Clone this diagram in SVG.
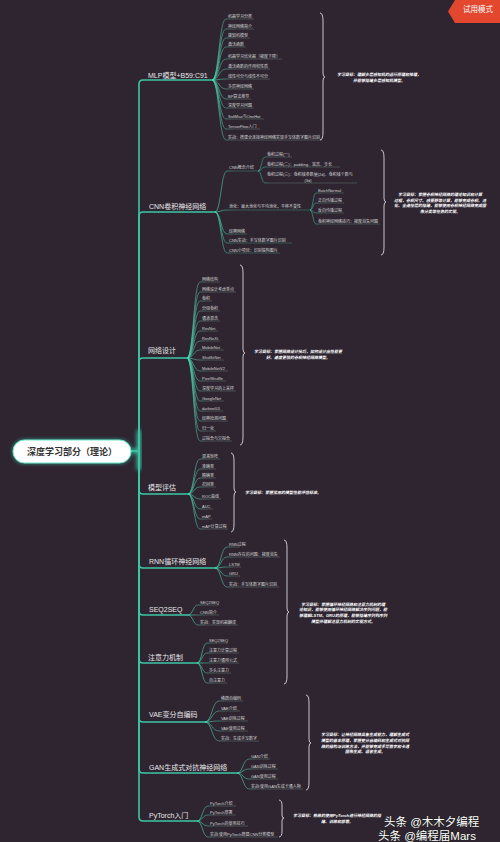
<svg xmlns="http://www.w3.org/2000/svg" width="500" height="842" viewBox="0 0 500 842">
<style>
text{font-family:"Liberation Sans","Noto Sans CJK SC",sans-serif}
.cat{font-size:7px;fill:#e8e8e8}
.leaf{font-size:4px;fill:#d4d4d4}
.note{font-size:4px;fill:#ffffff;font-weight:bold;font-style:italic;text-anchor:middle}
.trunk{fill:none;stroke:#3cc6a5;stroke-width:1.6}
.lc{fill:none;stroke-width:0.7}
.brace{fill:none;stroke:#d8d8d8;stroke-width:0.9}
.wm{font-size:11.5px;fill:#ffffff;stroke:#222;stroke-width:1.2;paint-order:stroke}
</style>
<defs>
<filter id="glow" x="-30%" y="-80%" width="160%" height="260%"><feGaussianBlur stdDeviation="2.2"/></filter>
<linearGradient id="gMLP" gradientUnits="userSpaceOnUse" x1="212" y1="0" x2="234" y2="0"><stop offset="0" stop-color="#46dcb6"/><stop offset="1" stop-color="#55625f"/></linearGradient>
<linearGradient id="gCNN" gradientUnits="userSpaceOnUse" x1="215" y1="0" x2="235" y2="0"><stop offset="0" stop-color="#46dcb6"/><stop offset="1" stop-color="#3c6d63"/></linearGradient>
<linearGradient id="gCNNa" gradientUnits="userSpaceOnUse" x1="258" y1="0" x2="272" y2="0"><stop offset="0" stop-color="#3fae95"/><stop offset="1" stop-color="#4f5f5c"/></linearGradient>
<linearGradient id="gCNNb" gradientUnits="userSpaceOnUse" x1="310" y1="0" x2="324" y2="0"><stop offset="0" stop-color="#3fae95"/><stop offset="1" stop-color="#4f5f5c"/></linearGradient>
<linearGradient id="gNET" gradientUnits="userSpaceOnUse" x1="187" y1="0" x2="208" y2="0"><stop offset="0" stop-color="#46dcb6"/><stop offset="1" stop-color="#55625f"/></linearGradient>
<linearGradient id="gEVAL" gradientUnits="userSpaceOnUse" x1="188" y1="0" x2="208" y2="0"><stop offset="0" stop-color="#46dcb6"/><stop offset="1" stop-color="#55625f"/></linearGradient>
<linearGradient id="gRNN" gradientUnits="userSpaceOnUse" x1="215" y1="0" x2="235" y2="0"><stop offset="0" stop-color="#46dcb6"/><stop offset="1" stop-color="#55625f"/></linearGradient>
<linearGradient id="gSEQ" gradientUnits="userSpaceOnUse" x1="188" y1="0" x2="206" y2="0"><stop offset="0" stop-color="#46dcb6"/><stop offset="1" stop-color="#55625f"/></linearGradient>
<linearGradient id="gATT" gradientUnits="userSpaceOnUse" x1="197" y1="0" x2="215" y2="0"><stop offset="0" stop-color="#46dcb6"/><stop offset="1" stop-color="#55625f"/></linearGradient>
<linearGradient id="gVAE" gradientUnits="userSpaceOnUse" x1="205" y1="0" x2="227" y2="0"><stop offset="0" stop-color="#46dcb6"/><stop offset="1" stop-color="#55625f"/></linearGradient>
<linearGradient id="gGAN" gradientUnits="userSpaceOnUse" x1="237" y1="0" x2="257" y2="0"><stop offset="0" stop-color="#46dcb6"/><stop offset="1" stop-color="#55625f"/></linearGradient>
<linearGradient id="gPT" gradientUnits="userSpaceOnUse" x1="197" y1="0" x2="216" y2="0"><stop offset="0" stop-color="#46dcb6"/><stop offset="1" stop-color="#55625f"/></linearGradient>
</defs>
<rect x="0" y="0" width="500" height="842" fill="#2e2531"/>

<g id="connectors">
<path d="M131 451 H139 M139 430 V470" stroke="#3cf0c4" stroke-width="4" fill="none" filter="url(#glow)" opacity="0.8"/>
<path class="trunk" d="M131 451 H139"/>
<path class="trunk" d="M139 451 V84 Q139 80 143 80 H212"/>
<path class="trunk" d="M139 451 V216 Q139 212 143 212 H215"/>
<path class="trunk" d="M139 451 V362 Q139 358 143 358 H187"/>
<path class="trunk" d="M139 451 V490 Q139 494 143 494 H188"/>
<path class="trunk" d="M139 451 V564 Q139 568 143 568 H215"/>
<path class="trunk" d="M139 451 V611 Q139 615 143 615 H188"/>
<path class="trunk" d="M139 451 V659 Q139 663 143 663 H197"/>
<path class="trunk" d="M139 451 V718 Q139 722 143 722 H205"/>
<path class="trunk" d="M139 451 V769 Q139 773 143 773 H237"/>
<path class="trunk" d="M139 451 V817 Q139 821 143 821 H197"/>

<g class="lc" stroke="url(#gMLP)">
<path d="M212 80 C219 80 219 19 226 19 H254"/>
<path d="M212 80 C219 80 219 29 226 29 H254"/>
<path d="M212 80 C219 80 219 38 226 38 H250"/>
<path d="M212 80 C219 80 219 47 226 47 H246"/>
<path d="M212 80 C219 80 219 59 226 59 H282"/>
<path d="M212 80 C219 80 219 69 226 69 H270"/>
<path d="M212 80 C219 80 219 79 226 79 H270"/>
<path d="M212 80 C219 80 219 89 226 89 H254"/>
<path d="M212 80 C219 80 219 99 226 99 H251"/>
<path d="M212 80 C219 80 219 108 226 108 H254"/>
<path d="M212 80 C219 80 219 119 226 119 H264"/>
<path d="M212 80 C219 80 219 129 226 129 H260"/>
<path d="M212 80 C219 80 219 140 226 140 H322"/>
</g>
<g class="lc" stroke="url(#gCNN)">
<path d="M215 212 C221 212 221 171 227 171 H258"/>
<path d="M215 212 C221 212 221 210 227 210 H310"/>
<path d="M215 212 C221 212 221 234 227 234 H247"/>
<path d="M215 212 C221 212 221 243 227 243 H292"/>
<path d="M215 212 C221 212 221 253 227 253 H280"/>
</g>
<g class="lc" stroke="url(#gCNNa)">
<path d="M258 171 C261.5 171 261.5 157 265 157 H292"/>
<path d="M258 171 C261.5 171 261.5 167 265 167 H340"/>
<path d="M258 171 C261.5 171 261.5 183 265 183 H357"/>
</g>
<g class="lc" stroke="url(#gCNNb)">
<path d="M310 210 C313 210 313 193 316 193 H344"/>
<path d="M310 210 C313 210 313 203 316 203 H344"/>
<path d="M310 210 C313 210 313 213 316 213 H344"/>
<path d="M310 210 C313 210 313 224 316 224 H380"/>
</g>
<g class="lc" stroke="url(#gNET)">
<path d="M187 358 C193.5 358 193.5 282 200 282 H220"/>
<path d="M187 358 C193.5 358 193.5 292 200 292 H236"/>
<path d="M187 358 C193.5 358 193.5 301 200 301 H212"/>
<path d="M187 358 C193.5 358 193.5 311 200 311 H220"/>
<path d="M187 358 C193.5 358 193.5 321 200 321 H220"/>
<path d="M187 358 C193.5 358 193.5 331 200 331 H218"/>
<path d="M187 358 C193.5 358 193.5 341 200 341 H220"/>
<path d="M187 358 C193.5 358 193.5 350 200 350 H224"/>
<path d="M187 358 C193.5 358 193.5 360 200 360 H224"/>
<path d="M187 358 C193.5 358 193.5 371 200 371 H228"/>
<path d="M187 358 C193.5 358 193.5 381 200 381 H226"/>
<path d="M187 358 C193.5 358 193.5 391 200 391 H236"/>
<path d="M187 358 C193.5 358 193.5 401 200 401 H224"/>
<path d="M187 358 C193.5 358 193.5 411 200 411 H223"/>
<path d="M187 358 C193.5 358 193.5 421 200 421 H228"/>
<path d="M187 358 C193.5 358 193.5 431 200 431 H216"/>
<path d="M187 358 C193.5 358 193.5 441 200 441 H232"/>
</g>
<g class="lc" stroke="url(#gEVAL)">
<path d="M188 494 C194 494 194 459 200 459 H220"/>
<path d="M188 494 C194 494 194 469 200 469 H216"/>
<path d="M188 494 C194 494 194 478 200 478 H216"/>
<path d="M188 494 C194 494 194 487 200 487 H216"/>
<path d="M188 494 C194 494 194 499 200 499 H221"/>
<path d="M188 494 C194 494 194 509 200 509 H213"/>
<path d="M188 494 C194 494 194 519 200 519 H212"/>
<path d="M188 494 C194 494 194 529 200 529 H228"/>
</g>
<g class="lc" stroke="url(#gRNN)">
<path d="M215 568 C221 568 221 547 227 547 H240"/>
<path d="M215 568 C221 568 221 557 227 557 H280"/>
<path d="M215 568 C221 568 221 567 227 567 H241"/>
<path d="M215 568 C221 568 221 576 227 576 H240"/>
<path d="M215 568 C221 568 221 587 227 587 H279"/>
</g>
<g class="lc" stroke="url(#gSEQ)">
<path d="M188 615 C193 615 193 605 198 605 H219"/>
<path d="M188 615 C193 615 193 615 198 615 H219"/>
<path d="M188 615 C193 615 193 625 198 625 H238"/>
</g>
<g class="lc" stroke="url(#gATT)">
<path d="M197 663 C202 663 202 643 207 643 H228"/>
<path d="M197 663 C202 663 202 653 207 653 H239"/>
<path d="M197 663 C202 663 202 663 207 663 H239"/>
<path d="M197 663 C202 663 202 673 207 673 H231"/>
<path d="M197 663 C202 663 202 683 207 683 H227"/>
</g>
<g class="lc" stroke="url(#gVAE)">
<path d="M205 722 C212 722 212 701 219 701 H243"/>
<path d="M205 722 C212 722 212 711 219 711 H240"/>
<path d="M205 722 C212 722 212 721 219 721 H248"/>
<path d="M205 722 C212 722 212 731 219 731 H248"/>
<path d="M205 722 C212 722 212 741 219 741 H259"/>
</g>
<g class="lc" stroke="url(#gGAN)">
<path d="M237 773 C243 773 243 759 249 759 H270"/>
<path d="M237 773 C243 773 243 769 249 769 H278"/>
<path d="M237 773 C243 773 243 779 249 779 H278"/>
<path d="M237 773 C243 773 243 789 249 789 H303"/>
</g>
<g class="lc" stroke="url(#gPT)">
<path d="M197 821 C202.5 821 202.5 806 208 806 H236"/>
<path d="M197 821 C202.5 821 202.5 815 208 815 H236"/>
<path d="M197 821 C202.5 821 202.5 826 208 826 H248"/>
<path d="M197 821 C202.5 821 202.5 837 208 837 H278"/>
</g>
</g>

<g id="root">
<rect x="13" y="440" width="118" height="23" rx="11.5" fill="#3cf0c4" filter="url(#glow)" opacity="0.7"/>
<rect x="13" y="440" width="118" height="23" rx="11.5" fill="#ffffff" stroke="#6fe6c9" stroke-width="1"/>
<text x="72" y="455" text-anchor="middle" style="font-size:9px;font-weight:bold;fill:#333333">深度学习部分（理论）</text>
</g>

<g id="mlp">
<text class="cat" x="148" y="77.5">MLP模型+B59:C91</text>
<text class="leaf" x="228" y="17.5">机器学习分类</text>
<text class="leaf" x="228" y="27.5">神经网络简介</text>
<text class="leaf" x="228" y="36.5">感知机模型</text>
<text class="leaf" x="228" y="45.5">激活函数</text>
<text class="leaf" x="228" y="57.5">机器学习优化器（梯度下降）</text>
<text class="leaf" x="228" y="67.5">激活函数的作用和性质</text>
<text class="leaf" x="228" y="77.5">线性可分与线性不可分</text>
<text class="leaf" x="228" y="87.5">多层神经网络</text>
<text class="leaf" x="228" y="97.5">BP算法推导</text>
<text class="leaf" x="228" y="106.5">深度学习问题</text>
<text class="leaf" x="228" y="117.5">SoftMax与OneHot</text>
<text class="leaf" x="228" y="127.5">TensorFlow入门</text>
<text class="leaf" x="228" y="138.5">实战：搭建全连接神经网络实现手写体数字图片识别</text>
<path class="brace" d="M320 13 Q323 13 323 21 V73 Q323 77 325 77 Q323 77 323 81 V132 Q323 140 320 140"/>
<text class="note" x="379" y="75.5">学习目标：理解多层感知机的运行原理和推理，</text>
<text class="note" x="379" y="81.5">并能够搭建多层感知机模型。</text>
</g>

<g id="cnn">
<text class="cat" x="149" y="208.5">CNN卷积神经网络</text>
<text class="leaf" x="229" y="168.5">CNN概念介绍</text>
<text class="leaf" x="267" y="155.5">卷积过程(一)</text>
<text class="leaf" x="267" y="165.5">卷积过程(二)：padding、宽高、步长</text>
<text class="leaf" x="267" y="175.5">卷积过程(三)：卷积核参数量(2d)、卷积核个数与</text>
<text class="leaf" x="308" y="181.5" text-anchor="middle">(3d)</text>
<text class="leaf" x="229" y="207.5">池化：最大池化与平均池化，平移不变性</text>
<text class="leaf" x="318" y="191.5">BatchNormal</text>
<text class="leaf" x="318" y="201.5">正向传播过程</text>
<text class="leaf" x="318" y="211.5">反向传播过程</text>
<text class="leaf" x="318" y="222.5">卷积神经网络技巧：梯度消失问题</text>
<text class="leaf" x="229" y="232.5">经典网络</text>
<text class="leaf" x="229" y="241.5">CNN实战：手写体数字图片识别</text>
<text class="leaf" x="229" y="251.5">CNN小项目：识别猫狗图片</text>
<path class="brace" d="M381 150 Q384 150 384 158 V198 Q384 202 386 202 Q384 202 384 206 V247 Q384 255 381 255"/>
<text class="note" x="440" y="195.5">学习目标：掌握卷积神经网络的理论知识和计算</text>
<text class="note" x="440" y="201.5">过程，卷积尺寸、感受野等计算，能够完成卷积、池</text>
<text class="note" x="440" y="207">化、全连接层的搭建，能够使用卷积神经网络完成图</text>
<text class="note" x="440" y="212.5">像分类等任务的实现。</text>
</g>

<g id="netdesign">
<text class="cat" x="148" y="352.5">网络设计</text>
<text class="leaf" x="202" y="280.5">网络结构</text>
<text class="leaf" x="202" y="290.5">网络设计考虑重点</text>
<text class="leaf" x="202" y="299.5">卷积</text>
<text class="leaf" x="202" y="309.5">分组卷积</text>
<text class="leaf" x="202" y="319.5">通道混洗</text>
<text class="leaf" x="202" y="329.5">ResNet</text>
<text class="leaf" x="202" y="339.5">ResNeXt</text>
<text class="leaf" x="202" y="348.5">MobileNet</text>
<text class="leaf" x="202" y="358.5">ShuffleNet</text>
<text class="leaf" x="202" y="369.5">MobileNetV2</text>
<text class="leaf" x="202" y="379.5">PixelShuffle</text>
<text class="leaf" x="202" y="389.5">深度学习的上采样</text>
<text class="leaf" x="202" y="399.5">GoogleNet</text>
<text class="leaf" x="202" y="409.5">darknet53</text>
<text class="leaf" x="202" y="419.5">经典检测问题</text>
<text class="leaf" x="202" y="429.5">归一化</text>
<text class="leaf" x="202" y="439.5">过拟合与欠拟合</text>
<path class="brace" d="M240 265 Q243 265 243 273 V349 Q243 353 245 353 Q243 353 243 357 V437 Q243 445 240 445"/>
<text class="note" x="298" y="352.5">学习目标：掌握网络设计技巧，如何设计出性能更</text>
<text class="note" x="298" y="358.5">好、速度更快的卷积神经网络模型。</text>
</g>

<g id="evaluation">
<text class="cat" x="148" y="489.5">模型评估</text>
<text class="leaf" x="202" y="457.5">混淆矩阵</text>
<text class="leaf" x="202" y="467.5">准确率</text>
<text class="leaf" x="202" y="476.5">精确率</text>
<text class="leaf" x="202" y="485.5">召回率</text>
<text class="leaf" x="202" y="497.5">ROC曲线</text>
<text class="leaf" x="202" y="507.5">AUC</text>
<text class="leaf" x="202" y="517.5">mAP</text>
<text class="leaf" x="202" y="527.5">mAP计算过程</text>
<path class="brace" d="M231 453 Q234 453 234 461 V488 Q234 492 236 492 Q234 492 234 496 V524 Q234 532 231 532"/>
<text class="note" x="245" y="494" style="text-anchor:start">学习目标：掌握常用的模型性能评估标准。</text>
</g>

<g id="rnn">
<text class="cat" x="149" y="563.5">RNN循环神经网络</text>
<text class="leaf" x="229" y="545.5">RNN过程</text>
<text class="leaf" x="229" y="555.5">RNN存在的问题：梯度消失</text>
<text class="leaf" x="229" y="565.5">LSTM</text>
<text class="leaf" x="229" y="574.5">GRU</text>
<text class="leaf" x="229" y="585.5">实战：手写体数字图片识别</text>
</g>

<g id="seq2seq">
<text class="cat" x="149" y="611.5">SEQ2SEQ</text>
<text class="leaf" x="200" y="603.5">SEQ2SEQ</text>
<text class="leaf" x="200" y="613.5">CNN简介</text>
<text class="leaf" x="200" y="623.5">实战：实现机器翻译</text>
</g>

<g id="attention">
<text class="cat" x="148" y="659.5">注意力机制</text>
<text class="leaf" x="209" y="641.5">SEQ2SEQ</text>
<text class="leaf" x="209" y="651.5">注意力计算过程</text>
<text class="leaf" x="209" y="661.5">注意力通用公式</text>
<text class="leaf" x="209" y="671.5">多头注意力</text>
<text class="leaf" x="209" y="681.5">自注意力</text>
<path class="brace" d="M284 540 Q287 540 287 548 V608 Q287 612 289 612 Q287 612 287 616 V676 Q287 684 284 684"/>
<text class="note" x="343" y="605.5">学习目标：掌握循环神经网络和注意力机制的理</text>
<text class="note" x="343" y="611">论知识，能够使用循环神经网络解决序列问题，能</text>
<text class="note" x="343" y="617">够理解LSTM、GRU的原理，能够搭建序列到序列</text>
<text class="note" x="343" y="622.5">模型并理解注意力机制的实现方式。</text>
</g>

<g id="vae">
<text class="cat" x="149" y="716.5">VAE变分自编码</text>
<text class="leaf" x="221" y="699.5">稀疏自编码</text>
<text class="leaf" x="221" y="709.5">VAE介绍</text>
<text class="leaf" x="221" y="719.5">VAE训练过程</text>
<text class="leaf" x="221" y="729.5">VAE使用过程</text>
<text class="leaf" x="221" y="739.5">实战：生成手写数字</text>
</g>

<g id="gan">
<text class="cat" x="149" y="769.5">GAN生成式对抗神经网络</text>
<text class="leaf" x="251" y="757.5">GAN介绍</text>
<text class="leaf" x="251" y="767.5">GAN训练过程</text>
<text class="leaf" x="251" y="777.5">GAN使用过程</text>
<text class="leaf" x="251" y="787.5">实战:使用GAN生成卡通人物</text>
<path class="brace" d="M306 695 Q309 695 309 703 V739 Q309 743 311 743 Q309 743 309 747 V782 Q309 790 306 790"/>
<text class="note" x="365" y="736">学习目标：让神经网络具备生成能力，理解生成式</text>
<text class="note" x="365" y="742">模型的基本原理，掌握变分自编码和生成式对抗网</text>
<text class="note" x="365" y="747.5">络的结构与训练方法，并能够完成手写数字和卡通</text>
<text class="note" x="365" y="753">图像生成、语音生成。</text>
</g>

<g id="pytorch">
<text class="cat" x="149" y="817.5">PyTorch入门</text>
<text class="leaf" x="210" y="804.5">PyTorch介绍</text>
<text class="leaf" x="210" y="813.5">PyTorch部署</text>
<text class="leaf" x="210" y="824.5">PyTorch的使用技巧</text>
<text class="leaf" x="210" y="835.5">实战:使用PyTorch搭建CNN分类模型</text>
<path class="brace" d="M279 800 Q282 800 282 806 V815 Q282 818 284 818 Q282 818 282 821 V831 Q282 837 279 837"/>
<text class="note" x="337" y="817">学习目标：熟练的使用PyTorch进行神经网络的搭</text>
<text class="note" x="337" y="823">建、训练和部署。</text>
</g>

<g id="badge">
<polygon points="455,0 500,0 500,23 455,23 448,11.5" fill="#e3472e"/>
<text x="478" y="11.5" text-anchor="middle" style="font-size:7.5px;fill:#ffffff">试用模式</text>
</g>

<g id="watermark">
<text class="wm" x="384" y="826">头条 @木木夕编程</text>
<text class="wm" x="378" y="839.5">头条 @编程届Mars</text>
</g>
</svg>
